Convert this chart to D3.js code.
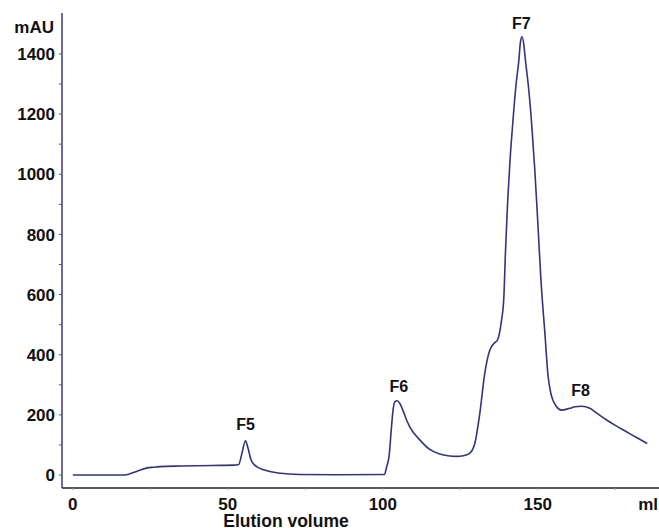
<!DOCTYPE html>
<html>
<head>
<meta charset="utf-8">
<script src="https://cdn.jsdelivr.net/npm/d3@7"></script>
<style>
  body { margin: 0; background: #fff; }
  text { font-family: "Liberation Sans", Arial, sans-serif; font-weight: bold; fill: #111; }
</style>
</head>
<body>
<div id="chart"></div>
<script>
// elution volume (ml) and absorbance (mAU)
var volume = [0, 10, 16, 18, 20, 22, 24, 26, 28, 35, 45, 52, 53.5, 54.5, 55.7, 56.5, 57.5, 58.7, 60, 63.5, 67, 73, 85, 100.5,
  101.3, 102, 102.8, 103.3, 103.9, 104.6, 105.5, 106.5, 107.5, 108.7, 110, 112, 115, 118.4, 121, 123.8, 126, 128, 129.7,
  131.3, 132.9, 134.5, 136, 137, 138.3, 139, 139.6, 140.3, 141, 142, 143, 143.9, 144.4, 144.9, 145.5, 146, 147, 148, 149,
  150, 151, 152.3, 153.3, 154.2, 155, 156, 157.6, 160.3, 162, 164.1, 166.8, 169, 172.2, 175, 178.6, 182, 185.3];
var absorbance = [0, 0, 0, 3, 10, 18, 24, 26, 28, 30, 32, 33, 35, 70, 114, 90, 50, 33, 24, 12, 6, 2, 1, 2,
  30, 61, 160, 216, 244, 247, 238, 215, 187, 160, 140, 116, 86, 70, 64, 62, 64, 72, 106,
  206, 339, 415, 439, 449, 515, 582, 750, 915, 1040, 1180, 1300, 1380, 1440, 1457, 1430, 1380, 1290, 1170, 1020,
  840, 650, 470, 330, 272, 246, 228, 216, 222, 227, 229, 222, 206, 183, 165, 144, 124, 105];

var peakNames = ["F5", "F6", "F7", "F8"];
var peakX = [55.7, 105.2, 144.7, 163.8];
var peakY = [150, 276, 1483, 263];

var yTicks = [0, 200, 400, 600, 800, 1000, 1200, 1400];
var yMinor = [100, 300, 500, 700, 900, 1100, 1300];
var xTicks = [0, 50, 100, 150];
var xMinor = [25, 75, 125, 175];

var width = 659, height = 528;

var svg = d3.select("#chart").append("svg")
    .attr("width", width)
    .attr("height", height);

var x = d3.scaleLinear().domain([-3.5, 189.1]).range([62, 659]);
var y = d3.scaleLinear().domain([-43, 1536]).range([488, 13]);

var data = volume.map((v, i) => ({ml: v, mau: absorbance[i]}));

// x axis
var xAxis = svg.append("g").attr("transform", "translate(0,488)");
xAxis.append("line")
    .attr("x1", 62).attr("x2", 659)
    .attr("stroke", "#222").attr("stroke-width", 1.3);
xAxis.selectAll(".xt")
    .data(xTicks.concat(xMinor))
    .enter().append("line")
    .attr("x1", d => x(d)).attr("x2", d => x(d))
    .attr("y1", 0).attr("y2", 2)
    .attr("stroke", "#999");
xAxis.selectAll(".xl")
    .data(xTicks)
    .enter().append("text")
    .attr("x", d => x(d))
    .attr("y", 22)
    .attr("text-anchor", "middle")
    .style("font-size", "17px")
    .text(d => d);
xAxis.append("text")
    .attr("x", 658).attr("y", 22)
    .attr("text-anchor", "end")
    .style("font-size", "17px")
    .text("ml");
svg.append("text")
    .attr("x", 286).attr("y", 527)
    .attr("text-anchor", "middle")
    .style("font-size", "17.5px")
    .text("Elution volume");

// y axis
var yAxis = svg.append("g").attr("transform", "translate(62,0)");
yAxis.append("line")
    .attr("y1", 13).attr("y2", 488)
    .attr("stroke", "#1c1c6b").attr("stroke-width", 1.3);
yAxis.selectAll(".yt")
    .data(yTicks.concat(yMinor))
    .enter().append("line")
    .attr("x1", -3).attr("x2", 0)
    .attr("y1", d => y(d)).attr("y2", d => y(d))
    .attr("stroke", "#555");
yAxis.selectAll(".yl")
    .data(yTicks)
    .enter().append("text")
    .attr("x", -7)
    .attr("y", d => y(d))
    .attr("dy", "0.36em")
    .attr("text-anchor", "end")
    .style("font-size", "17px")
    .text(d => d);
yAxis.append("text")
    .attr("x", -8).attr("y", 33)
    .attr("text-anchor", "end")
    .style("font-size", "17px")
    .text("mAU");

// trace
var line = d3.line()
    .x(d => x(d.ml))
    .y(d => y(d.mau))
    .curve(d3.curveMonotoneX);

svg.append("path")
    .datum(data)
    .attr("d", line)
    .attr("fill", "none")
    .attr("stroke", "#34347c")
    .attr("stroke-width", 1.6);

// peak labels
svg.selectAll(".peak")
    .data(peakNames)
    .enter().append("text")
    .attr("x", (d, i) => x(peakX[i]))
    .attr("y", (d, i) => y(peakY[i]))
    .attr("text-anchor", "middle")
    .style("font-size", "16px")
    .text(d => d);
</script>
</body>
</html>
